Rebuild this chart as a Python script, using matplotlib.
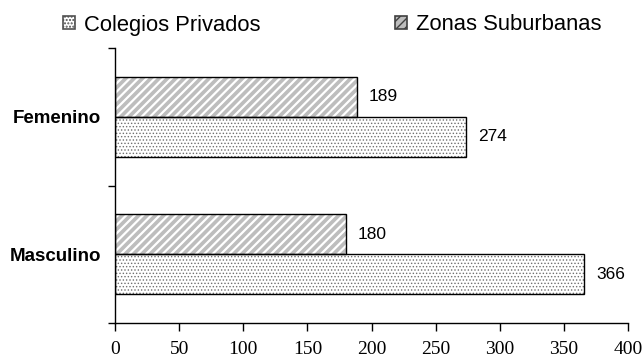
import numpy as np
import matplotlib
matplotlib.use("Agg")
import matplotlib.pyplot as plt
from matplotlib.patches import Patch

categories = ["Masculino", "Femenino"]
colegios = [366, 274]
zonas = [180, 189]
x_ticks = [0, 50, 100, 150, 200, 250, 300, 350, 400]

plt.rcParams['font.family'] = ['Liberation Sans', 'DejaVu Sans']

fig = plt.figure(figsize=(6.44, 3.6), dpi=100)
ax = fig.add_axes([115 / 644, 1 - 323 / 360, 513 / 644, 275 / 360])

y = np.arange(len(categories))
h = 0.29

# colegios: white with small grey dots
bars_c = ax.barh(y - h / 2, colegios, height=h, color="white", edgecolor="#707070",
                 hatch=".....", linewidth=0)
# zonas: grey with white diagonal stripes
bars_z = ax.barh(y + h / 2, zonas, height=h, color="#bdbdbd", edgecolor="white",
                 hatch="////", linewidth=0)
for b in bars_c:
    try:
        b.set_hatch_linewidth(0.6)
    except AttributeError:
        pass
for b in bars_z:
    try:
        b.set_hatch_linewidth(1.6)
    except AttributeError:
        pass

# black outlines on top
ax.barh(y - h / 2, colegios, height=h, color="none", edgecolor="black", linewidth=1)
ax.barh(y + h / 2, zonas, height=h, color="none", edgecolor="black", linewidth=1)

for yi, v in zip(y, colegios):
    ax.text(v + 9, yi - h / 2, str(v), va="center", ha="left", fontsize=12.5)
for yi, v in zip(y, zonas):
    ax.text(v + 9, yi + h / 2, str(v), va="center", ha="left", fontsize=12.5)

ax.set_xlim(0, 400)
ax.set_ylim(-0.5, len(categories) - 0.5)
ax.set_xticks(x_ticks)
ax.set_xticklabels([str(t) for t in x_ticks], family="Liberation Serif", fontsize=14)
ax.tick_params(axis="x", direction="out", length=6, width=1, pad=7)

ax.set_yticks([-0.5, 0.5, 1.5])
ax.set_yticklabels([])
ax.set_yticks(y, minor=True)
ax.set_yticklabels(categories, minor=True, fontweight="bold", fontsize=13.5)
ax.tick_params(axis="y", which="major", direction="out", length=5, width=1)
ax.tick_params(axis="y", which="minor", length=0, pad=10)

for s in ["top", "right"]:
    ax.spines[s].set_visible(False)
for s in ["left", "bottom"]:
    ax.spines[s].set_linewidth(1)

h_c = Patch(facecolor="white", edgecolor="#505050", hatch=".....", linewidth=1.2)
h_z = Patch(facecolor="#bdbdbd", edgecolor="#404040", hatch="////", linewidth=1.2)
leg_kw = dict(loc="center left", frameon=False, fontsize=15.8, borderpad=0, borderaxespad=0,
              handlelength=0.55, handleheight=0.55, handletextpad=0.4)
fig.legend([h_c], ["Colegios Privados"], bbox_to_anchor=(63 / 644, 1 - 25 / 360), **leg_kw)
fig.legend([h_z], ["Zonas Suburbanas"], bbox_to_anchor=(395 / 644, 1 - 25 / 360), **leg_kw)

fig.savefig("out.png", dpi=100)
